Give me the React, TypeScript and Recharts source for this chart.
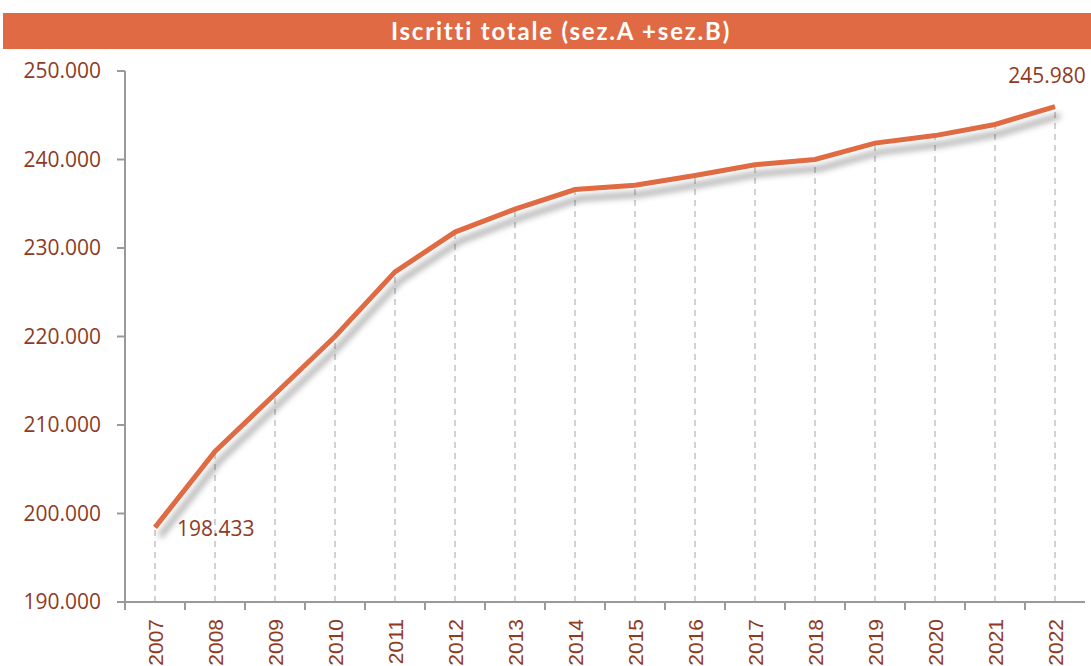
import {
  LineChart,
  Line,
  XAxis,
  YAxis,
  ReferenceLine,
  LabelList,
} from "recharts";

const years = [
  "2007", "2008", "2009", "2010", "2011", "2012", "2013", "2014",
  "2015", "2016", "2017", "2018", "2019", "2020", "2021", "2022",
];
const iscritti = [
  198433, 207000, 213500, 220000, 227300, 231800, 234400, 236600,
  237100, 238200, 239400, 240000, 241850, 242700, 243960, 245980,
];
const yTicks = [190000, 200000, 210000, 220000, 230000, 240000, 250000];

const ORANGE = "#E06A43";
const BROWN = "#8E3B1F";
const AXIS = "#9a9a9a";
const W = 1091;
const H = 666;

const data = years.map((year, i) => ({ year, value: iscritti[i] }));

const fmt = (v: number) =>
  v.toLocaleString("it-IT", { maximumFractionDigits: 0 }).replace(/\s/g, ".");

function XTick(props: any) {
  const { x, y, payload } = props;
  const half = (W - 125 - 6) / years.length / 2;
  const ty = y + 9;
  return (
    <g>
      <line x1={x - half} y1={y - 8} x2={x - half} y2={y} stroke={AXIS} strokeWidth={2} />
      <text
        x={x}
        y={ty}
        transform={`rotate(-90, ${x}, ${ty})`}
        textAnchor="end"
        dominantBaseline="central"
        fill={BROWN}
        fontSize={21}
        fontFamily="Liberation Sans, Arial, sans-serif"
      >
        {payload.value}
      </text>
    </g>
  );
}

function EndLabel(props: any) {
  const { x, y, value, index } = props;
  if (index === 0) {
    return (
      <text x={x + 22} y={y + 1} dominantBaseline="central" fill={BROWN} fontSize={21} fontFamily="Open Sans, sans-serif">
        {fmt(value)}
      </text>
    );
  }
  if (index === years.length - 1) {
    return (
      <text x={x - 8} y={y - 32} textAnchor="middle" dominantBaseline="central" fill={BROWN} fontSize={21} fontFamily="Open Sans, sans-serif">
        {fmt(value)}
      </text>
    );
  }
  return null;
}

export default function App() {
  return (
    <div style={{ position: "absolute", left: 0, top: 0, width: W, height: H, background: "#fff", overflow: "hidden" }}>
      <LineChart
        width={W}
        height={H}
        data={data}
        margin={{ top: 71, right: 6, bottom: 0, left: 0 }}
      >
        <defs>
          <filter id="lineShadow" x="-10%" y="-10%" width="120%" height="130%">
            <feDropShadow dx="5" dy="9" stdDeviation="3" floodColor="#000" floodOpacity="0.35" />
          </filter>
        </defs>
        <XAxis
          dataKey="year"
          height={64}
          padding={{ left: 30, right: 30 }}
          axisLine={{ stroke: AXIS, strokeWidth: 2 }}
          tickLine={false}
          tick={<XTick />}
          interval={0}
        />
        <YAxis
          width={125}
          domain={[190000, 250000]}
          ticks={yTicks}
          tickFormatter={fmt}
          axisLine={{ stroke: AXIS, strokeWidth: 2 }}
          tickLine={{ stroke: AXIS, strokeWidth: 2 }}
          tickSize={8}
          tickMargin={16}
          tick={{ fill: BROWN, fontSize: 21, fontFamily: "Open Sans, sans-serif" }}
        />
        {data.map((d) => (
          <ReferenceLine
            key={d.year}
            segment={[
              { x: d.year, y: 190000 },
              { x: d.year, y: d.value },
            ]}
            stroke="#c4c4c4"
            strokeWidth={1.5}
            strokeDasharray="6 5"
          />
        ))}
        <Line
          type="linear"
          dataKey="value"
          stroke={ORANGE}
          strokeWidth={5}
          dot={false}
          filter="url(#lineShadow)"
          isAnimationActive={false}
        >
          <LabelList dataKey="value" content={<EndLabel />} />
        </Line>
      </LineChart>
      <div
        style={{
          position: "absolute",
          left: 3,
          top: 13,
          width: W - 3,
          height: 36,
          background: ORANGE,
          color: "#fff",
          fontFamily: "Lato, sans-serif",
          fontWeight: 700,
          fontSize: 24,
          letterSpacing: 1.8,
          lineHeight: "36px",
          textAlign: "center",
          paddingLeft: 28,
          boxSizing: "border-box",
        }}
      >
        Iscritti totale (sez.A +sez.B)
      </div>
    </div>
  );
}
